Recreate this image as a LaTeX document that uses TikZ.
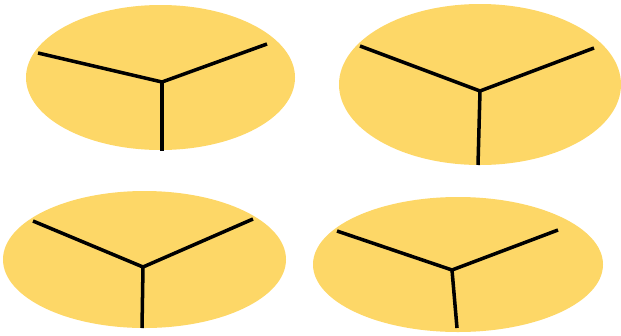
\documentclass[tikz,border=0pt]{standalone}
\usepackage{tikz}
\usetikzlibrary{shapes.geometric}
\usepackage{xcolor}
\definecolor{disc-yellow}{HTML}{FDD767}

\begin{document}
\begin{tikzpicture}[x=0.02cm, y=-0.02cm,
        disc/.style={ellipse, fill=disc-yellow, draw=none, inner sep=0pt},
        spoke/.style={line width=2pt, black, line cap=butt}]
        \useasboundingbox (0,0) rectangle (621,335);
        % top left
        \node[disc, minimum width=269*0.02cm, minimum height=145*0.02cm] (d1) at (160.5, 77.5) {};
        \coordinate (c1) at (162, 82);
        \coordinate (l1) at (38, 53);
        \coordinate (r1) at (267, 44);
        \coordinate (b1) at (162, 151);
        \draw[spoke] (l1) -- (c1) -- (r1);
        \draw[spoke] (c1) -- (b1);
        % top right
        \node[disc, minimum width=282*0.02cm, minimum height=161*0.02cm] (d2) at (480, 84.5) {};
        \coordinate (c2) at (480, 91);
        \coordinate (l2) at (360, 46);
        \coordinate (r2) at (594, 48);
        \coordinate (b2) at (478, 165);
        \draw[spoke] (l2) -- (c2) -- (r2);
        \draw[spoke] (c2) -- (b2);
        % bottom left
        \node[disc, minimum width=283*0.02cm, minimum height=137*0.02cm] (d3) at (144.5, 259.5) {};
        \coordinate (c3) at (143, 267);
        \coordinate (l3) at (33, 221);
        \coordinate (r3) at (253, 219);
        \coordinate (b3) at (142, 328);
        \draw[spoke] (l3) -- (c3) -- (r3);
        \draw[spoke] (c3) -- (b3);
        % bottom right
        \node[disc, minimum width=290*0.02cm, minimum height=135*0.02cm] (d4) at (458, 264.5) {};
        \coordinate (c4) at (452, 270);
        \coordinate (l4) at (337, 231);
        \coordinate (r4) at (558, 230);
        \coordinate (b4) at (457, 328);
        \draw[spoke] (l4) -- (c4) -- (r4);
        \draw[spoke] (c4) -- (b4);
\end{tikzpicture}
\end{document}
